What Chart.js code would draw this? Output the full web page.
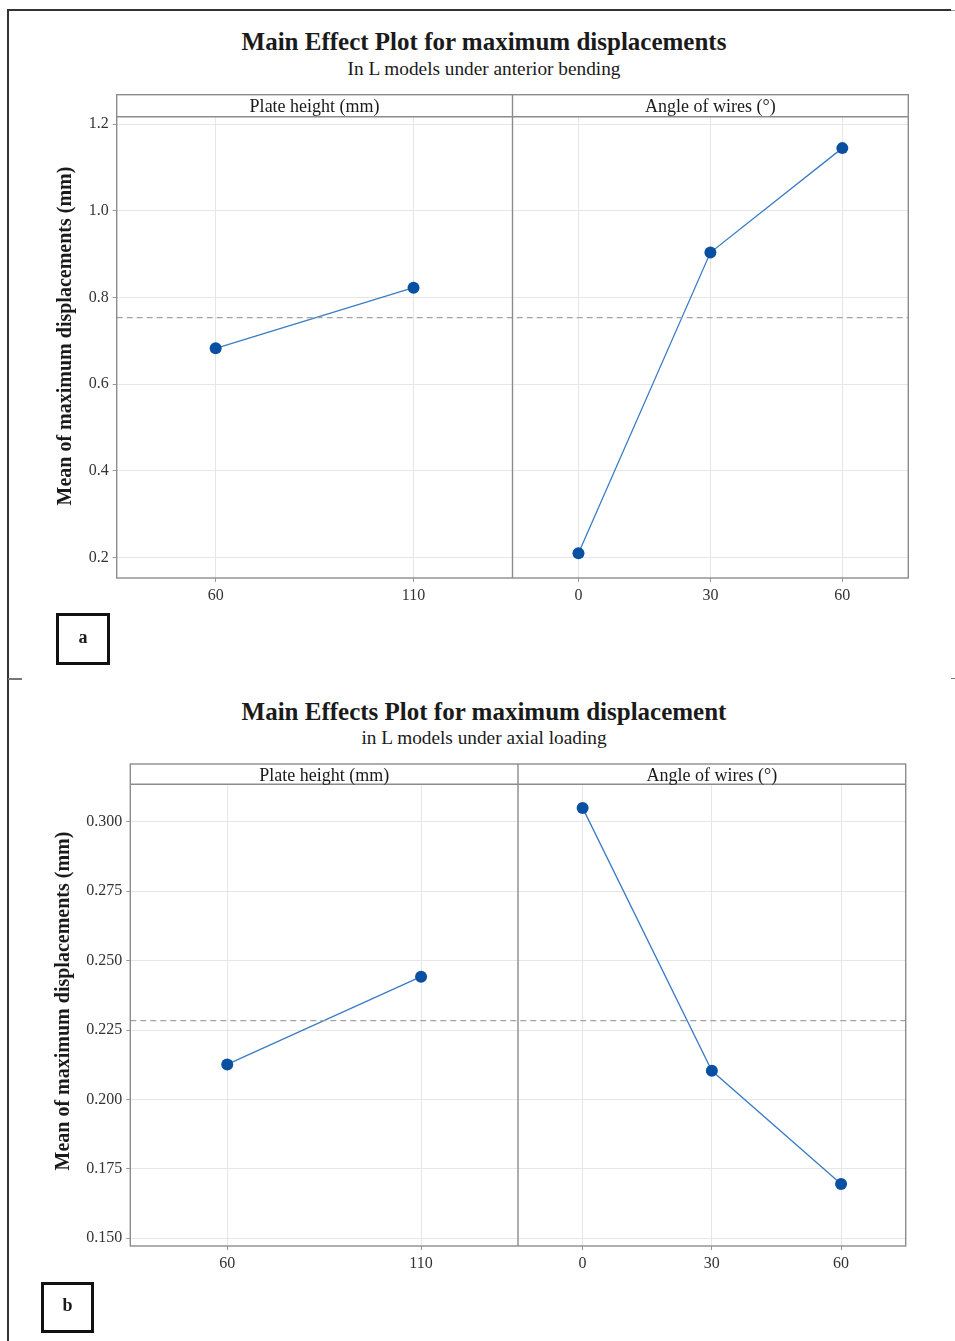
<!DOCTYPE html>
<html>
<head>
<meta charset="utf-8">
<script src="https://cdn.jsdelivr.net/npm/chart.js@4.4.1/dist/chart.umd.min.js"></script>
<style>
  html, body { margin: 0; padding: 0; background: #fff; }
  body { width: 955px; height: 1341px; position: relative; overflow: hidden; font-family: "Liberation Serif", "Times New Roman", serif; color: #1a1a1a; }
  canvas { position: absolute; left: 0; }
  .ttl { position: absolute; left: 0; width: 968px; text-align: center; line-height: 1; white-space: nowrap; }
  .main { font-weight: bold; font-size: 25px; }
  .sub { font-size: 19.3px; }
  .lbl { position: absolute; box-sizing: border-box; border: 3px solid #111; font-weight: bold; font-size: 18px; display: flex; align-items: center; justify-content: center; padding-bottom: 4px; }
  .ln { position: absolute; }
</style>
</head>
<body>
<!-- page frame fragments -->
<div class="ln" style="left:7px;top:9px;width:2px;height:1332px;background:#333"></div>
<div class="ln" style="left:7px;top:9px;width:944px;height:2px;background:#333"></div>
<div class="ln" style="left:951px;top:10px;width:4px;height:1px;background:#999"></div>
<div class="ln" style="left:8px;top:678px;width:14px;height:2px;background:#777"></div>
<div class="ln" style="left:951px;top:678px;width:4px;height:1px;background:#777"></div>

<div class="ttl main" style="top:29px">Main Effect Plot for maximum displacements</div>
<div class="ttl sub" style="top:59px">In L models under anterior bending</div>
<div class="ttl main" style="top:699px">Main Effects Plot for maximum displacement</div>
<div class="ttl sub" style="top:728px">in L models under axial loading</div>

<canvas id="ca" width="955" height="640" style="top:0px"></canvas>
<canvas id="cb" width="955" height="681" style="top:660px"></canvas>

<div class="lbl" style="left:56px;top:613px;width:54px;height:52px">a</div>
<div class="lbl" style="left:41px;top:1282px;width:53px;height:51px">b</div>

<script>
// ---------- data ----------
const plateCats = ['60', '110'];
const angleCats = ['0', '30', '60'];
const panelHeaders = ['Plate height (mm)', 'Angle of wires (°)'];
const yAxisLabel = 'Mean of maximum displacements (mm)';

// (a) anterior bending
const plateA = [0.683, 0.823];
const angleA = [0.210, 0.904, 1.145];
const meanA = 0.754;
const yTicksA = [0.2, 0.4, 0.6, 0.8, 1.0, 1.2];
const yTickLabelsA = ['0.2', '0.4', '0.6', '0.8', '1.0', '1.2'];
const yRangeA = [0.153, 1.2175];

// (b) axial loading
const plateB = [0.2126, 0.2442];
const angleB = [0.3050, 0.2103, 0.1695];
const meanB = 0.2284;
const yTicksB = [0.150, 0.175, 0.200, 0.225, 0.250, 0.275, 0.300];
const yTickLabelsB = ['0.150', '0.175', '0.200', '0.225', '0.250', '0.275', '0.300'];
const yRangeB = [0.1472, 0.3135];

// ---------- styling ----------
const SERIF = '"Liberation Serif", "Times New Roman", serif';
const LINE_COLOR = '#3b7cc6';
const POINT_COLOR = '#0a50a2';
const GRID = '#e6e6e6';
const FRAME = '#8c8c8c';

Chart.defaults.font.family = SERIF;

const panelPlugin = {
  id: 'panels',
  afterDraw(chart, args, opts) {
    const { ctx, chartArea: ca, scales } = chart;
    const x1 = scales.x1, x2 = scales.x2;
    const H = opts.headerH;
    ctx.save();
    ctx.strokeStyle = FRAME;
    ctx.lineWidth = 1.4;
    ctx.strokeRect(ca.left, ca.top - H, ca.right - ca.left, ca.bottom - ca.top + H);
    ctx.beginPath();
    ctx.moveTo(ca.left, ca.top); ctx.lineTo(ca.right, ca.top);
    ctx.moveTo(x1.right, ca.top - H); ctx.lineTo(x1.right, ca.bottom);
    ctx.stroke();
    ctx.fillStyle = '#1a1a1a';
    ctx.font = '18px ' + SERIF;
    ctx.textAlign = 'center';
    ctx.textBaseline = 'middle';
    ctx.fillText(panelHeaders[0], (x1.left + x1.right) / 2, ca.top - H / 2 + 2);
    ctx.fillText(panelHeaders[1], (x2.left + x2.right) / 2, ca.top - H / 2 + 2);
    ctx.translate(opts.labelX, opts.labelY);
    ctx.rotate(-Math.PI / 2);
    ctx.font = 'bold 20px ' + SERIF;
    ctx.fillText(yAxisLabel, 0, 0);
    ctx.restore();
  }
};

function xScale(labels, height) {
  return {
    type: 'category',
    labels: labels,
    position: 'bottom',
    stack: 'panels',
    stackWeight: 1,
    offset: true,
    afterFit(s) { s.height = height; },
    grid: { color: GRID, tickColor: '#999', tickLength: 4, lineWidth: 1, offset: false },
    border: { display: false },
    ticks: { font: { size: 16, family: SERIF }, color: '#333', padding: 4, maxRotation: 0, autoSkip: false }
  };
}

function makeChart(id, cfg) {
  new Chart(document.getElementById(id), {
    type: 'line',
    data: {
      datasets: [
        {
          data: [{ x: 0, y: cfg.mean }, { x: 1, y: cfg.mean }],
          xAxisID: 'xm', yAxisID: 'y',
          borderColor: '#a3a3a3', borderWidth: 1.3, borderDash: [6, 4],
          pointRadius: 0, fill: false
        },
        {
          data: cfg.plate, xAxisID: 'x1', yAxisID: 'y',
          borderColor: LINE_COLOR, borderWidth: 1.3,
          pointRadius: 6, pointBackgroundColor: POINT_COLOR, pointBorderColor: POINT_COLOR,
          pointBorderWidth: 0, tension: 0, fill: false
        },
        {
          data: cfg.angle, xAxisID: 'x2', yAxisID: 'y',
          borderColor: LINE_COLOR, borderWidth: 1.3,
          pointRadius: 6, pointBackgroundColor: POINT_COLOR, pointBorderColor: POINT_COLOR,
          pointBorderWidth: 0, tension: 0, fill: false
        }
      ]
    },
    options: {
      responsive: false,
      animation: false,
      devicePixelRatio: 1,
      events: [],
      layout: { padding: cfg.padding },
      plugins: {
        legend: { display: false },
        tooltip: { enabled: false },
        panels: { headerH: cfg.headerH, labelX: cfg.labelX, labelY: cfg.labelY }
      },
      scales: {
        y: {
          type: 'linear',
          position: 'left',
          min: cfg.yRange[0],
          max: cfg.yRange[1],
          afterFit(s) { s.width = cfg.yWidth; },
          afterBuildTicks(s) { s.ticks = cfg.yTicks.map(v => ({ value: v })); },
          ticks: {
            font: { size: 16, family: SERIF }, color: '#333', padding: 4,
            callback: (v, i) => cfg.yLabels[i]
          },
          grid: { color: GRID, tickColor: '#999', tickLength: 4, lineWidth: 1 },
          border: { display: false }
        },
        x1: xScale(plateCats, 30),
        x2: xScale(angleCats, 30),
        xm: { type: 'linear', display: false, min: 0, max: 1 }
      }
    },
    plugins: [panelPlugin]
  });
}

makeChart('ca', {
  plate: plateA, angle: angleA, mean: meanA,
  yTicks: yTicksA, yLabels: yTickLabelsA, yRange: yRangeA,
  yWidth: 116.7,
  padding: { top: 116.7, right: 46.7, bottom: 32, left: 0 },
  headerH: 22, labelX: 66, labelY: 336
});

makeChart('cb', {
  plate: plateB, angle: angleB, mean: meanB,
  yTicks: yTicksB, yLabels: yTickLabelsB, yRange: yRangeB,
  yWidth: 130.3,
  padding: { top: 124.3, right: 49.3, bottom: 65, left: 0 },
  headerH: 20.3, labelX: 64, labelY: 341
});
</script>
</body>
</html>
